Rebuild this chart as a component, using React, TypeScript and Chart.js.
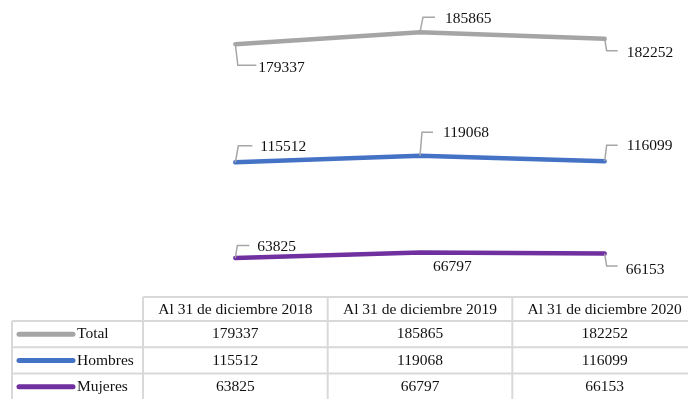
import { useEffect, useRef } from "react";
import { Chart, registerables } from "chart.js";

Chart.register(...registerables);

// ---- data ----
const categories = ["Al 31 de diciembre 2018", "Al 31 de diciembre 2019", "Al 31 de diciembre 2020"];
const seriesNames = ["Total", "Hombres", "Mujeres"];
const totalValues = [179337, 185865, 182252];
const hombresValues = [115512, 119068, 116099];
const mujeresValues = [63825, 66797, 66153];

// ---- styles ----
const seriesColors = ["#a5a5a5", "#4472c4", "#7030a0"];
const FONT = '15.5px "Liberation Serif", "Times New Roman", serif';
const TEXT_COLOR = "#111111";
const LEADER_COLOR = "#a6a6a6";
const GRID_COLOR = "#d9d9d9";

// label placement relative to each point: corner (cx,cy), horizontal end hx, text left tx, text middle ty
type LabelPos = { cx: number; cy: number; hx: number; tx: number; ty: number; leader: boolean };
const labelPlacement: LabelPos[][] = [
  [
    { cx: 2.5, cy: 21, hx: 21, tx: 23, ty: 23.5, leader: true },
    { cx: 3, cy: -15, hx: 15, tx: 25, ty: -13.5, leader: true },
    { cx: 2, cy: 12, hx: 13, tx: 22, ty: 14, leader: true },
  ],
  [
    { cx: 3, cy: -16.5, hx: 17, tx: 25, ty: -15, leader: true },
    { cx: 2, cy: -23.5, hx: 13, tx: 23, ty: -22.5, leader: true },
    { cx: 2, cy: -16, hx: 13, tx: 22, ty: -15, leader: true },
  ],
  [
    { cx: 2, cy: -12.5, hx: 14, tx: 22, ty: -11.5, leader: true },
    { cx: 0, cy: 0, hx: 0, tx: 13, ty: 14.5, leader: false },
    { cx: 2, cy: 12.5, hx: 13, tx: 21, ty: 16, leader: true },
  ],
];

const TABLE_TOP = 297;
const HEADER_H = 24;
const ROW_H = 26.3;
const LEGEND_LEFT = 12;

const labelsPlugin = {
  id: "leaderLabels",
  afterDatasetsDraw(chart: any) {
    const ctx = chart.ctx;
    ctx.save();
    ctx.font = FONT;
    ctx.textBaseline = "middle";
    ctx.textAlign = "left";
    chart.data.datasets.forEach((ds: any, i: number) => {
      const meta = chart.getDatasetMeta(i);
      meta.data.forEach((el: any, j: number) => {
        const p = labelPlacement[i][j];
        const x = el.x;
        const y = el.y;
        if (p.leader) {
          ctx.strokeStyle = LEADER_COLOR;
          ctx.lineWidth = 1.5;
          ctx.beginPath();
          ctx.moveTo(x, y);
          ctx.lineTo(x + p.cx, y + p.cy);
          ctx.lineTo(x + p.hx, y + p.cy);
          ctx.stroke();
        }
        ctx.fillStyle = TEXT_COLOR;
        ctx.fillText(String(ds.data[j]), x + p.tx, y + p.ty);
      });
    });
    ctx.restore();
  },
};

const tablePlugin = {
  id: "dataTable",
  afterDraw(chart: any) {
    const ctx = chart.ctx;
    const xs = chart.scales.x;
    const area = chart.chartArea;
    const colW = (area.right - area.left) / categories.length;
    const right = area.right;
    const rowsTop = TABLE_TOP + HEADER_H;
    const bottom = rowsTop + ROW_H * seriesNames.length;
    ctx.save();
    ctx.strokeStyle = GRID_COLOR;
    ctx.lineWidth = 2;
    ctx.beginPath();
    // header top
    ctx.moveTo(area.left, TABLE_TOP);
    ctx.lineTo(right, TABLE_TOP);
    // column verticals
    for (let c = 0; c <= categories.length; c++) {
      const cx = area.left + c * colW;
      ctx.moveTo(cx, TABLE_TOP);
      ctx.lineTo(cx, bottom);
    }
    // legend left
    ctx.moveTo(LEGEND_LEFT, rowsTop);
    ctx.lineTo(LEGEND_LEFT, bottom);
    // row lines
    for (let r = 0; r <= seriesNames.length; r++) {
      const ry = rowsTop + r * ROW_H;
      ctx.moveTo(LEGEND_LEFT, ry);
      ctx.lineTo(right, ry);
    }
    ctx.stroke();

    ctx.font = FONT;
    ctx.fillStyle = TEXT_COLOR;
    ctx.textBaseline = "middle";
    ctx.textAlign = "center";
    categories.forEach((cat, c) => {
      ctx.fillText(cat, xs.getPixelForValue(c), TABLE_TOP + HEADER_H / 2 + 1);
    });
    chart.data.datasets.forEach((ds: any, i: number) => {
      const cy = rowsTop + ROW_H * i + ROW_H / 2;
      // legend key
      ctx.strokeStyle = ds.borderColor;
      ctx.lineWidth = 5;
      ctx.lineCap = "round";
      ctx.beginPath();
      ctx.moveTo(LEGEND_LEFT + 7, cy);
      ctx.lineTo(LEGEND_LEFT + 61, cy);
      ctx.stroke();
      ctx.textAlign = "left";
      ctx.fillStyle = TEXT_COLOR;
      ctx.fillText(ds.label, LEGEND_LEFT + 65, cy);
      ctx.textAlign = "center";
      ds.data.forEach((v: number, j: number) => {
        ctx.fillText(String(v), xs.getPixelForValue(j), cy);
      });
    });
    ctx.restore();
  },
};

export default function App() {
  const ref = useRef<HTMLCanvasElement | null>(null);
  useEffect(() => {
    if (!ref.current) return;
    const values = [totalValues, hombresValues, mujeresValues];
    const chart = new Chart(ref.current, {
      type: "line",
      data: {
        labels: categories,
        datasets: seriesNames.map((name, i) => ({
          label: name,
          data: values[i],
          borderColor: seriesColors[i],
          backgroundColor: seriesColors[i],
          borderWidth: 4.5,
          borderCapStyle: "round",
          borderJoinStyle: "round",
          pointRadius: 0,
          tension: 0,
          fill: false,
        })),
      },
      options: {
        animation: false,
        responsive: false,
        layout: { padding: { left: 143, right: 0, top: 6, bottom: 23 } },
        plugins: { legend: { display: false }, tooltip: { enabled: false } },
        scales: {
          x: { type: "category", display: false, offset: true },
          y: { display: false, min: 0, max: 200000 },
        },
      },
      plugins: [labelsPlugin, tablePlugin],
    });
    return () => chart.destroy();
  }, []);
  return (
    <div style={{ position: "fixed", left: 0, top: 0, width: 688, height: 399, overflow: "hidden", background: "#fff" }}>
      <canvas ref={ref} width={697} height={399} style={{ display: "block", width: 697, height: 399 }} />
    </div>
  );
}
